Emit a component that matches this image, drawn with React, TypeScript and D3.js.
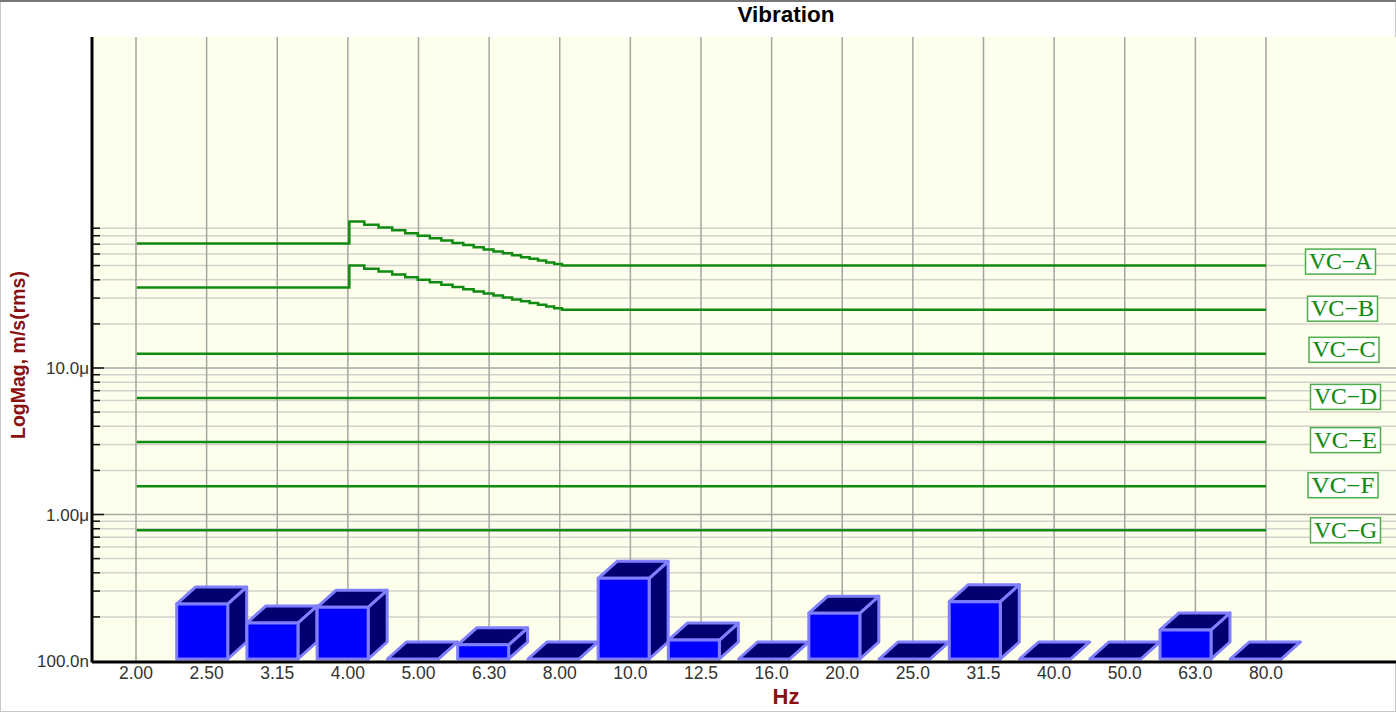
import React from "react";
import * as d3 from "d3";

const W = 1396;
const H = 712;

// 1/3-octave band labels (Hz)
const bandLabels = ["2.00", "2.50", "3.15", "4.00", "5.00", "6.30", "8.00", "10.0", "12.5", "16.0", "20.0", "25.0", "31.5", "40.0", "50.0", "63.0", "80.0"];
// measured vibration per band, m/s rms (0 = at/below axis floor, null = no bar)
const bandValues: (number | null)[] = [null, 2.45e-7, 1.82e-7, 2.33e-7, 0, 1.29e-7, 0, 3.67e-7, 1.39e-7, 0, 2.12e-7, 0, 2.54e-7, 0, 0, 1.63e-7, 0];

// VC criteria names and flat levels above 8 Hz (m/s)
const vcNames = ["VC\u2212A", "VC\u2212B", "VC\u2212C", "VC\u2212D", "VC\u2212E", "VC\u2212F", "VC\u2212G"];
const vcLevels = [50e-6, 25e-6, 12.5e-6, 6.25e-6, 3.12e-6, 1.56e-6, 0.78e-6];

// low-frequency shape of VC-A / VC-B (frequency Hz, level m/s), stepped
const vcAFreqs = [2, 4, 4.2, 4.4, 4.6, 4.8, 5.0, 5.2, 5.4, 5.6, 5.8, 6.0, 6.2, 6.4, 6.6, 6.8, 7.0, 7.2, 7.4, 7.6, 7.8, 8.0, 80];
const vcAVals = [70.7e-6, 100e-6, 95.2e-6, 90.9e-6, 87.0e-6, 83.3e-6, 80.0e-6, 76.9e-6, 74.1e-6, 71.4e-6, 69.0e-6, 66.7e-6, 64.5e-6, 62.5e-6, 60.6e-6, 58.8e-6, 57.1e-6, 55.6e-6, 54.1e-6, 52.6e-6, 51.3e-6, 50.0e-6, 50.0e-6];
const vcBVals = [35.4e-6, 50e-6, 47.6e-6, 45.5e-6, 43.5e-6, 41.7e-6, 40.0e-6, 38.5e-6, 37.0e-6, 35.7e-6, 34.5e-6, 33.3e-6, 32.3e-6, 31.3e-6, 30.3e-6, 29.4e-6, 28.6e-6, 27.8e-6, 27.0e-6, 26.3e-6, 25.6e-6, 25.0e-6, 25.0e-6];

const yTickValues = [1e-7, 1e-6, 1e-5];
const yTickLabels = ["100.0n", "1.00\u03bc", "10.0\u03bc"];

const plotLeft = 92;
const plotTop = 37;
const plotBottom = 661;
const plotRight = W;

const fLo = Math.pow(10, 0.3);
const fHi = Math.pow(10, 1.9);
const x = d3.scaleLog().domain([fLo, fHi]).range([136, 1266]).clamp(true);
// bar front-face left edges by band index
const barX = d3.scaleLinear().domain([1, 15]).range([176.7, 1160]);
const pxPerDecade = 146.5;
const y = d3
  .scaleLog()
  .domain([1e-7, 1e-7 * Math.pow(10, (plotBottom - plotTop) / pxPerDecade)])
  .range([plotBottom, plotTop]);

const bandFreq = (i: number) => Math.pow(10, (i + 3) / 10);

const green = "#118a11";
const sans = "'Liberation Sans', Arial, sans-serif";

export default function App() {
  const minorVals: number[] = [];
  const majorVals: number[] = [];
  for (let e = -7; e <= -5; e++) {
    for (let m = 1; m <= 9; m++) {
      const v = m * Math.pow(10, e);
      if (m === 1) {
        if (e > -7) majorVals.push(v);
      } else minorVals.push(v);
    }
  }

  const line = d3
    .line<[number, number]>()
    .x((d) => x(d[0]))
    .y((d) => y(d[1]))
    .curve(d3.curveStepAfter);

  const vcPaths = vcNames.map((name, k) => {
    let pts: [number, number][];
    if (k === 0) pts = vcAFreqs.map((f, i) => [f, vcAVals[i]]);
    else if (k === 1) pts = vcAFreqs.map((f, i) => [f, vcBVals[i]]);
    else pts = [[2, vcLevels[k]], [80, vcLevels[k]]];
    return { name, d: line(pts) as string, level: vcLevels[k] };
  });

  const labelOffsets = [-4, -1, -4, -1, -2, -1, 0];
  const labelCenters = [1340.5, 1342.5, 1344, 1345.5, 1345.5, 1343, 1345.5];

  const front = 51;
  const dx = 19;
  const dy = 17;
  const bars = bandValues
    .map((v, i) => ({ v, i }))
    .filter((b) => b.v !== null)
    .map(({ v, i }) => {
      const left = barX(i);
      const base = plotBottom - 2;
      const top = (v as number) > 1e-7 ? y(v as number) : base;
      return { i, left, base, top };
    });

  return (
    <svg width={W} height={H} style={{ position: "absolute", left: 0, top: 0, background: "#fff" }}>
      <rect x={0.5} y={0.5} width={W - 1} height={H - 1} fill="#fff" stroke="#c8c8c8" />
      <line x1={0} x2={W} y1={1} y2={1} stroke="#777" strokeWidth={2} />
      <rect x={plotLeft} y={plotTop} width={plotRight - plotLeft} height={plotBottom - plotTop} fill="#fefeec" />

      {/* horizontal grid */}
      {minorVals.map((v, i) => (
        <line key={"mn" + i} x1={plotLeft} x2={plotRight} y1={y(v)} y2={y(v)} stroke="#d2d2cc" strokeWidth={1.5} />
      ))}
      {majorVals.map((v, i) => (
        <line key={"mj" + i} x1={plotLeft} x2={plotRight} y1={y(v)} y2={y(v)} stroke="#a9a9a4" strokeWidth={1.5} />
      ))}
      {/* vertical grid */}
      {bandLabels.map((_, i) => (
        <line key={"vg" + i} x1={x(bandFreq(i))} x2={x(bandFreq(i))} y1={plotTop} y2={plotBottom} stroke="#a5a5a0" strokeWidth={1.5} />
      ))}

      {/* y ticks */}
      {minorVals.map((v, i) => (
        <line key={"tmn" + i} x1={plotLeft} x2={plotLeft + 8} y1={y(v)} y2={y(v)} stroke="#111" strokeWidth={1.5} />
      ))}
      {majorVals.map((v, i) => (
        <line key={"tmj" + i} x1={plotLeft} x2={plotLeft + 12} y1={y(v)} y2={y(v)} stroke="#111" strokeWidth={1.5} />
      ))}

      {/* VC lines */}
      {vcPaths.map((p) => (
        <path key={p.name} d={p.d} fill="none" stroke={green} strokeWidth={2.5} />
      ))}
      {vcPaths.map((p, k) => {
        const cy = y(p.level) + labelOffsets[k];
        const cx = labelCenters[k];
        return (
          <g key={"lbl" + p.name}>
            <rect x={cx - 35} y={cy - 12.5} width={70} height={25} fill="#ffffff" stroke="#4caf4c" strokeWidth={1.5} />
            <text
              x={cx}
              y={cy + 7.5}
              textAnchor="middle"
              fontFamily="'Liberation Serif', 'Times New Roman', serif"
              fontSize={22.5}
              fill={green}
              stroke={green}
              strokeWidth={0.15}
              textLength={63}
              lengthAdjust="spacingAndGlyphs"
            >
              {p.name}
            </text>
          </g>
        );
      })}

      {/* 3D bars */}
      {bars.map((b) => (
        <g key={"bar" + b.i} stroke="#7f7fff" strokeWidth={3} strokeLinejoin="round">
          <polygon
            points={`${b.left + front},${b.base} ${b.left + front},${b.top} ${b.left + front + dx},${b.top - dy} ${b.left + front + dx},${b.base - dy}`}
            fill="#000070"
          />
          <polygon
            points={`${b.left},${b.top} ${b.left + dx},${b.top - dy} ${b.left + front + dx},${b.top - dy} ${b.left + front},${b.top}`}
            fill="#000070"
          />
          {b.base - b.top > 0.5 && <rect x={b.left} y={b.top} width={front} height={b.base - b.top} fill="#0000ff" />}
        </g>
      ))}

      {/* axes */}
      <line x1={plotLeft} x2={plotLeft} y1={plotTop} y2={plotBottom + 1.5} stroke="#000" strokeWidth={3} />
      <line x1={plotLeft} x2={plotRight} y1={plotBottom + 1} y2={plotBottom + 1} stroke="#000" strokeWidth={3} />

      {/* y tick labels */}
      {yTickValues.map((v, i) => (
        <text key={"yl" + i} x={89} y={y(v) + 6} textAnchor="end" fontFamily={sans} fontSize={17} fill="#333">
          {yTickLabels[i]}
        </text>
      ))}
      {/* x tick labels */}
      {bandLabels.map((l, i) => (
        <text key={"xl" + i} x={x(bandFreq(i))} y={679} textAnchor="middle" fontFamily={sans} fontSize={17.5} fill="#333">
          {l}
        </text>
      ))}

      <text x={786} y={22} textAnchor="middle" fontFamily={sans} fontWeight="bold" fontSize={22.5} fill="#000">
        Vibration
      </text>
      <text x={786} y={704} textAnchor="middle" fontFamily={sans} fontWeight="bold" fontSize={22} fill="#8b1010">
        Hz
      </text>
      <text transform="translate(25,355) rotate(-90)" textAnchor="middle" fontFamily={sans} fontWeight="bold" fontSize={19.5} fill="#8b1010">
        LogMag, m/s(rms)
      </text>
    </svg>
  );
}
